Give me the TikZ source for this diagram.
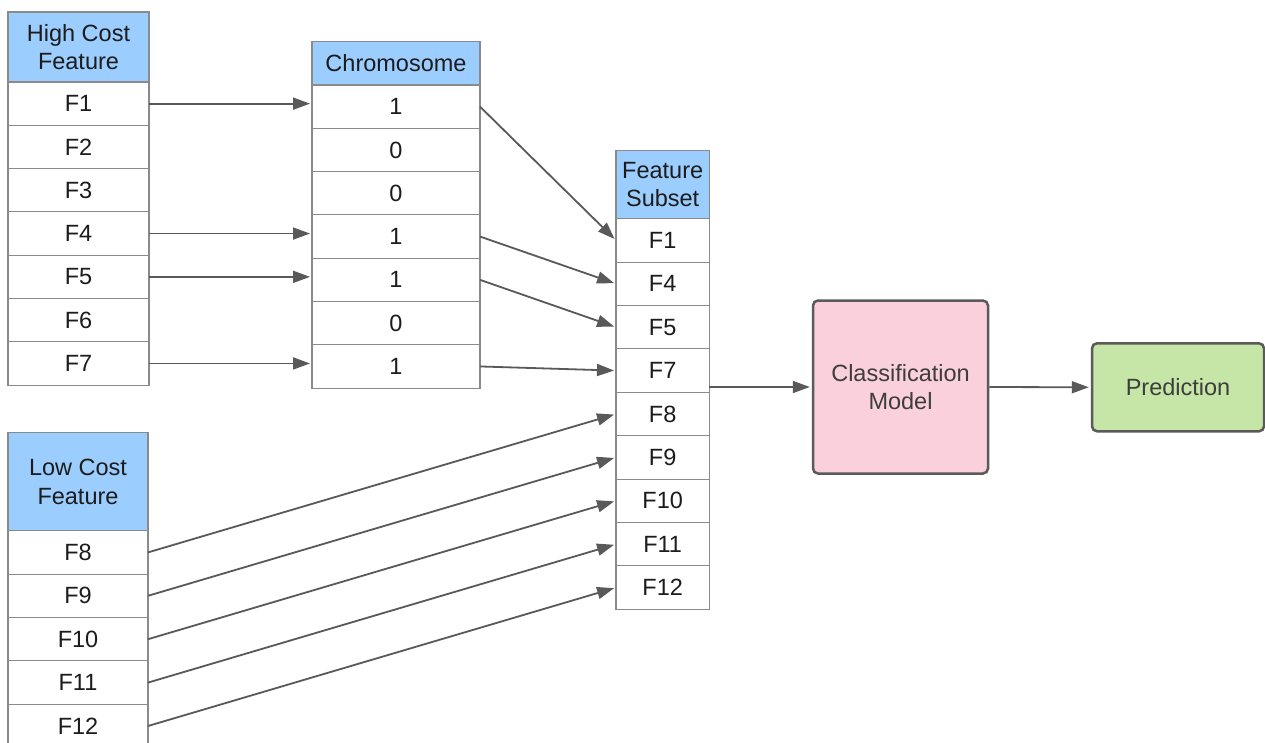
\documentclass[tikz,border=0pt]{standalone}
\usepackage{fontspec}
\setmainfont{Liberation Sans}
\usetikzlibrary{arrows.meta}
\definecolor{hdr}{HTML}{9CCDFF}
\definecolor{tblline}{HTML}{8A8A8A}
\definecolor{txt}{HTML}{1C1C1C}
\definecolor{arrc}{HTML}{595959}
\definecolor{boxline}{HTML}{5A5A5A}
\definecolor{pinkfill}{HTML}{F9D0DC}
\definecolor{greenfill}{HTML}{C6E6A8}
\definecolor{boxtxt}{HTML}{3D3D3D}
\newcommand{\fsz}{\fontsize{23.5}{28.5}\selectfont}
\begin{document}
\begin{tikzpicture}[x=1pt,y=-1pt,
  cell/.style={draw=tblline, line width=1.1pt, fill=white, anchor=north west,
    inner sep=0pt, outer sep=0pt, font=\fsz, text=txt, align=center},
  hdrcell/.style={cell, fill=hdr},
  arr/.style={draw=arrc, line width=1.8pt, -{Triangle[length=17pt,width=12pt]}, shorten >=2pt},
  bigbox/.style={draw=boxline, line width=2.5pt, rounded corners=5pt, inner sep=0pt,
    font=\fsz, text=boxtxt, align=center}]
\clip (0,0) rectangle (1265,743);
\fill[white] (0,0) rectangle (1265,743);

% High cost feature table
\node[hdrcell, minimum width=141pt, minimum height=70pt] (h0) at (8,12) {High Cost\\Feature};
\foreach \t [count=\i] in {F1,F2,F3,F4,F5,F6,F7}
  \node[cell, minimum width=141pt, minimum height=43.3pt] (h\i) at (8,{82+(\i-1)*43.3}) {\t};

% Chromosome table
\node[hdrcell, minimum width=168pt, minimum height=43.7pt] (c0) at (312,41.3) {Chromosome};
\foreach \t [count=\i] in {1,0,0,1,1,0,1}
  \node[cell, minimum width=168pt, minimum height=43.3pt] (c\i) at (312,{85+(\i-1)*43.3}) {\t};

% Feature subset table
\node[hdrcell, minimum width=93.3pt, minimum height=68pt] (s0) at (616,150.7) {Feature\\Subset};
\foreach \t [count=\i] in {F1,F4,F5,F7,F8,F9,F10,F11,F12}
  \node[cell, minimum width=93.3pt, minimum height=43.4pt] (s\i) at (616,{218.7+(\i-1)*43.4}) {\t};

% Low cost feature table
\node[hdrcell, minimum width=140pt, minimum height=98pt] (l0) at (8,432.7) {Low Cost\\Feature};
\foreach \t [count=\i] in {F8,F9,F10,F11,F12}
  \node[cell, minimum width=140pt, minimum height=43.4pt] (l\i) at (8,{530.7+(\i-1)*43.4}) {\t};

% Classification and prediction
\node[bigbox, fill=pinkfill, minimum width=175pt, minimum height=173pt] (cm) at (900.5,387) {Classification\\Model};
\node[bigbox, fill=greenfill, minimum width=172pt, minimum height=88pt] (pr) at (1178,387.3) {Prediction};

% Arrows high cost -> chromosome
\foreach \i in {1,4,5,7}
  \draw[arr] (h\i.east) -- (h\i.east -| c\i.west);

% Chromosome -> feature subset
\draw[arr] (c1.east) -- (s1.west);
\draw[arr] (c4.east) -- (s2.west);
\draw[arr] (c5.east) -- (s3.west);
\draw[arr] (c7.east) -- (s4.west);

% Low cost -> feature subset
\foreach \i [evaluate=\i as \j using int(\i+4)] in {1,2,3,4,5}
  \draw[arr] (l\i.east) -- (s\j.west);

% Feature subset -> classification -> prediction
\draw[arr] (cm.west -| s4.east) -- (cm.west);
\draw[arr] (cm.east) -- (pr.west);
\end{tikzpicture}
\end{document}
